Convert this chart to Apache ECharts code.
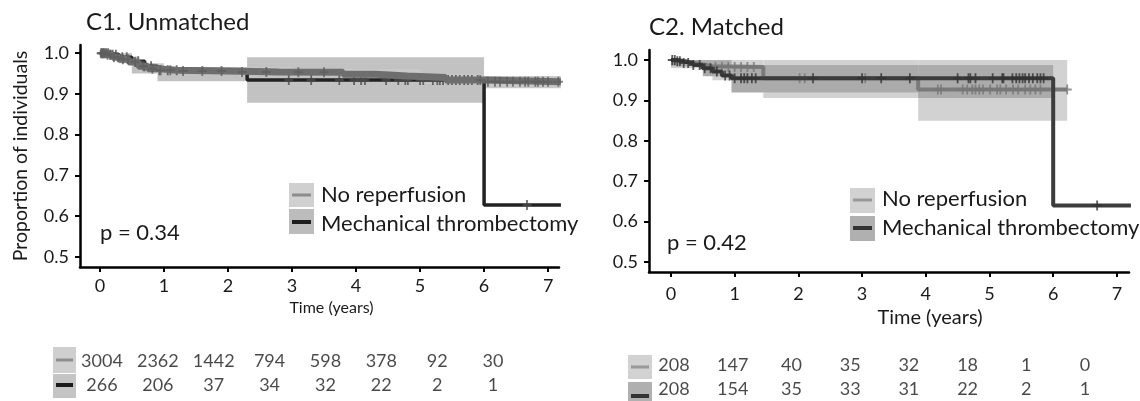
<!DOCTYPE html>
<html>
<head>
<meta charset="utf-8">
<script src="https://cdn.jsdelivr.net/npm/echarts@6/dist/echarts.min.js"></script>
<style>
html,body{margin:0;padding:0;background:#fff;}
#chart{width:1140px;height:401px;}
</style>
</head>
<body>
<div id="chart"></div>
<script>
// ---------- DATA ----------
var xTicks = [0, 1, 2, 3, 4, 5, 6, 7];
var yTicks = [0.5, 0.6, 0.7, 0.8, 0.9, 1.0];

// C1. Unmatched
var c1NrTimes = [0, 0.1, 0.2, 0.3, 0.45, 0.6, 0.75, 0.9, 1.2, 2.0, 2.8, 3.8, 4.3, 4.8, 5.4, 6.0, 7.2];
var c1NrSurv  = [1.0, 0.996, 0.99, 0.985, 0.978, 0.968, 0.962, 0.958, 0.956, 0.954, 0.953, 0.948, 0.944, 0.94, 0.934, 0.93, 0.93];
var c1NrCiTimes = [0, 0.3, 0.6, 1.0, 3.0, 5.0, 6.0, 7.2];
var c1NrCiLo    = [0.99, 0.975, 0.955, 0.95, 0.945, 0.925, 0.914, 0.914];
var c1NrCiHi    = [1.0, 0.992, 0.975, 0.966, 0.961, 0.948, 0.944, 0.944];
var c1NrCensor  = [0.02, 0.05, 0.08, 0.12, 0.16, 0.22, 0.28, 0.36, 0.44, 0.55, 0.68, 0.82, 0.95, 1.1, 1.3, 1.6, 1.9, 2.22, 2.6, 3.1, 3.5, 5.94, 6.06, 6.17, 6.25, 6.36, 6.45, 6.56, 6.64, 6.69, 6.8, 6.84, 6.92, 7.0, 7.16];

var c1MtTimes = [0, 0.15, 0.3, 0.5, 0.7, 0.9, 2.3, 6.0, 7.2];
var c1MtSurv  = [1.0, 0.996, 0.99, 0.98, 0.968, 0.958, 0.934, 0.627, 0.627];
var c1MtCiTimes = [0, 0.5, 0.9, 2.3, 6.0];
var c1MtCiLo    = [0.99, 0.95, 0.931, 0.878, 0.878];
var c1MtCiHi    = [1.0, 0.975, 0.96, 0.99, 0.99];
var c1MtCensor  = [0.03, 0.06, 0.1, 0.13, 0.17, 0.2, 0.25, 0.35, 0.42, 0.6, 0.7, 0.8, 0.93, 1.06, 1.2, 2.95, 3.3, 3.74, 3.97, 4.08, 4.14, 4.47, 4.66, 4.77, 4.81, 5.0, 5.05, 5.2, 5.27, 5.31, 5.36, 5.44, 5.5, 5.56, 5.62, 5.69, 5.75, 5.81, 5.9, 6.67];

// C2. Matched
var c2NrTimes = [0, 0.1, 0.25, 0.4, 0.55, 0.65, 1.45, 3.88, 6.22];
var c2NrSurv  = [1.0, 0.996, 0.992, 0.988, 0.985, 0.983, 0.955, 0.927, 0.927];
var c2NrCiTimes = [0, 0.65, 1.45, 3.88, 6.22];
var c2NrCiLo    = [0.98, 0.95, 0.906, 0.85, 0.85];
var c2NrCiHi    = [1.0, 1.0, 1.0, 1.0, 1.0];
var c2NrCensor  = [0.7, 0.8, 0.9, 1.0, 1.1, 1.2, 1.3, 2.02, 2.1, 3.05, 4.19, 4.24, 4.58, 4.65, 4.73, 4.78, 4.84, 4.9, 5.01, 5.12, 5.17, 5.26, 5.37, 5.45, 5.56, 5.64, 5.72, 5.8, 6.22];

var c2MtTimes = [0, 0.1, 0.2, 0.35, 0.5, 0.65, 0.8, 0.95, 6.0, 7.22];
var c2MtSurv  = [1.0, 0.997, 0.993, 0.988, 0.98, 0.972, 0.962, 0.955, 0.64, 0.64];
var c2MtCiTimes = [0, 0.5, 0.95, 3.88, 6.0];
var c2MtCiLo    = [0.985, 0.96, 0.92, 0.906, 0.906];
var c2MtCiHi    = [1.0, 1.0, 0.988, 0.988, 0.988];
var c2MtCensor  = [0.02, 0.06, 0.1, 0.14, 0.2, 0.27, 0.35, 0.45, 0.53, 0.62, 0.72, 0.85, 0.92, 1.0, 1.1, 1.15, 1.2, 1.27, 1.33, 2.23, 3.0, 3.3, 3.75, 4.5, 4.67, 4.7, 4.78, 5.05, 5.2, 5.22, 5.36, 5.42, 5.47, 5.52, 5.56, 5.62, 5.68, 5.75, 5.8, 5.85, 6.69];

// Numbers at risk
var riskC1Nr = [3004, 2362, 1442, 794, 598, 378, 92, 30];
var riskC1Mt = [266, 206, 37, 34, 32, 22, 2, 1];
var riskC2Nr = [208, 147, 40, 35, 32, 18, 1, 0];
var riskC2Mt = [208, 154, 35, 33, 31, 22, 2, 1];

// ---------- HELPERS ----------
var FONT = 'Lato';
var TXT = '#1a1a1a';
var PLUS = 'path://M4,0 H6 V4 H10 V6 H6 V10 H4 V6 H0 V4 H4 Z';

function pairs(t, s) { return t.map(function (v, i) { return [v, s[i]]; }); }
function stepAt(t, s, x) { var v = s[0]; for (var i = 0; i < t.length; i++) { if (t[i] <= x) v = s[i]; } return v; }
function censorPts(ct, t, s) { return ct.map(function (x) { return [x, stepAt(t, s, x)]; }); }
function bandData(t, lo, hi) {
  var out = [];
  for (var i = 0; i < t.length - 1; i++) out.push([t[i], t[i + 1], lo[i], hi[i]]);
  return out;
}
function bandSeries(idx, t, lo, hi, color) {
  return {
    type: 'custom', xAxisIndex: idx, yAxisIndex: idx, silent: true, z: 1,
    encode: { x: [0, 1], y: [2, 3] },
    data: bandData(t, lo, hi),
    renderItem: function (params, api) {
      var p0 = api.coord([api.value(0), api.value(3)]);
      var p1 = api.coord([api.value(1), api.value(2)]);
      return { type: 'rect', shape: { x: p0[0], y: p0[1], width: p1[0] - p0[0], height: p1[1] - p0[1] }, style: { fill: color } };
    }
  };
}
function kmLine(idx, t, s, color, w, z) {
  return { type: 'line', xAxisIndex: idx, yAxisIndex: idx, step: 'end', showSymbol: false, symbol: 'none', clip: false,
    data: pairs(t, s), lineStyle: { color: color, width: w }, z: z, silent: true };
}
function censorSeries(idx, pts, color, z) {
  return { type: 'scatter', xAxisIndex: idx, yAxisIndex: idx, symbol: PLUS, symbolSize: [9, 10], data: pts,
    itemStyle: { color: color }, z: z, silent: true, clip: false };
}
function riskSeries(idx, vals, yv) {
  return { type: 'scatter', xAxisIndex: idx, yAxisIndex: idx, symbolSize: 1, silent: true,
    data: vals.map(function (v, i) { return [i, yv, v]; }),
    itemStyle: { color: 'transparent' },
    label: { show: true, position: 'inside', formatter: function (p) { return String(p.value[2]); },
      fontFamily: FONT, fontSize: 18, color: TXT } };
}
function mainX(grid, min, max, name, nameGap, nameSize, namePad, labelMargin) {
  return {
    type: 'value', gridIndex: grid, min: min, max: max,
    axisLine: { show: true, onZero: false, lineStyle: { color: '#000', width: 2.5 } },
    axisTick: { show: true, customValues: xTicks, length: 5, lineStyle: { color: '#000', width: 2 } },
    axisLabel: { customValues: xTicks, fontFamily: FONT, fontSize: 18, color: TXT, margin: labelMargin },
    splitLine: { show: false },
    name: name, nameLocation: 'middle', nameGap: nameGap,
    nameTextStyle: { fontFamily: FONT, fontSize: nameSize, color: TXT, padding: namePad }
  };
}
function mainY(grid, min, max, name) {
  var a = {
    type: 'value', gridIndex: grid, min: min, max: max,
    axisLine: { show: true, onZero: false, lineStyle: { color: '#000', width: 2.5 } },
    axisTick: { show: true, customValues: yTicks, length: 5, lineStyle: { color: '#000', width: 2 } },
    axisLabel: { customValues: yTicks, fontFamily: FONT, fontSize: 18, color: TXT, margin: 11,
      formatter: function (v) { return v.toFixed(1); } },
    splitLine: { show: false }
  };
  if (name) {
    a.name = name; a.nameLocation = 'middle'; a.nameGap = 49;
    a.nameTextStyle = { fontFamily: FONT, fontSize: 19.5, color: TXT };
  }
  return a;
}
function hiddenAxis(grid, min, max) {
  return { type: 'value', gridIndex: grid, min: min, max: max, show: false,
    axisLine: { show: false }, axisTick: { show: false }, axisLabel: { show: false }, splitLine: { show: false } };
}
function keyBox(x, y, w, h, fill, lineColor, lineW, ly) {
  return [
    { type: 'rect', shape: { x: x, y: y, width: w, height: h }, style: { fill: fill }, silent: true },
    { type: 'line', shape: { x1: x + 3, y1: ly, x2: x + w - 3, y2: ly }, style: { stroke: lineColor, lineWidth: lineW }, silent: true }
  ];
}
function txt(x, y, s, size, align) {
  return { type: 'text', x: x, y: y, silent: true,
    style: { text: s, fontFamily: FONT, fontSize: size, fill: TXT, align: align || 'left', verticalAlign: 'middle' } };
}

var graphics = [].concat(
  keyBox(289, 183, 25, 24, '#d0d0d0', '#8c8c8c', 3, 195),
  keyBox(289, 209, 25, 25, '#bcbcbc', '#1e1e1e', 4, 222),
  keyBox(850, 188, 25, 25, '#d2d2d2', '#9a9a9a', 3, 200),
  keyBox(850, 216, 25, 25, '#b0b0b0', '#333333', 4, 228),
  keyBox(53, 347, 23, 26, '#cfcfcf', '#8f8f8f', 3, 360),
  keyBox(53, 374, 23, 24, '#c4c4c4', '#1a1a1a', 4, 385),
  keyBox(628, 355, 24, 24, '#d2d2d2', '#999999', 3, 367),
  keyBox(628, 382, 24, 19, '#b0b0b0', '#333333', 4, 396),
  [
    txt(321, 195, 'No reperfusion', 22),
    txt(321, 224, 'Mechanical thrombectomy', 22),
    txt(882, 199, 'No reperfusion', 22),
    txt(882, 228, 'Mechanical thrombectomy', 22),
    txt(100, 233, 'p = 0.34', 22),
    txt(667, 243, 'p = 0.42', 22)
  ]
);

var option = {
  backgroundColor: '#fff',
  animation: false,
  title: [
    { text: 'C1. Unmatched', left: 86, top: 10, padding: 0, textStyle: { fontFamily: FONT, fontSize: 24, fontWeight: 'normal', color: TXT } },
    { text: 'C2. Matched', left: 649, top: 15, padding: 0, textStyle: { fontFamily: FONT, fontSize: 24, fontWeight: 'normal', color: TXT } }
  ],
  grid: [
    { left: 80, top: 45, width: 479, height: 222 },
    { left: 649, top: 50, width: 480, height: 222 },
    { left: 102, top: 349, width: 391, height: 48 },
    { left: 674, top: 353, width: 411, height: 52 }
  ],
  xAxis: [
    mainX(0, -0.31, 7.17, 'Time (years)', 29, 16, [0, 0, 0, 24], 10),
    mainX(1, -0.345, 7.19, 'Time (years)', 21, 20, [0, 0, 0, 82], 13),
    hiddenAxis(2, 0, 7),
    hiddenAxis(3, 0, 7)
  ],
  yAxis: [
    mainY(0, 0.475, 1.02, 'Proportion of individuals'),
    mainY(1, 0.475, 1.025, null),
    hiddenAxis(2, 0, 1),
    hiddenAxis(3, 0, 1)
  ],
  series: [
    bandSeries(0, c1MtCiTimes, c1MtCiLo, c1MtCiHi, '#c2c2c2'),
    bandSeries(0, c1NrCiTimes, c1NrCiLo, c1NrCiHi, '#c8c8c8'),
    kmLine(0, c1MtTimes, c1MtSurv, '#222222', 3.5, 3),
    censorSeries(0, censorPts(c1MtCensor, c1MtTimes, c1MtSurv), '#4a4a4a', 4),
    kmLine(0, c1NrTimes, c1NrSurv, '#6e6e6e', 7, 5),
    censorSeries(0, censorPts(c1NrCensor, c1NrTimes, c1NrSurv), '#5e5e5e', 6),

    bandSeries(1, c2NrCiTimes, c2NrCiLo, c2NrCiHi, '#d2d2d2'),
    bandSeries(1, c2MtCiTimes, c2MtCiLo, c2MtCiHi, '#ababab'),
    kmLine(1, c2NrTimes, c2NrSurv, '#7a7a7a', 4, 3),
    censorSeries(1, censorPts(c2NrCensor, c2NrTimes, c2NrSurv), '#777777', 4),
    kmLine(1, c2MtTimes, c2MtSurv, '#3c3c3c', 4, 5),
    censorSeries(1, censorPts(c2MtCensor, c2MtTimes, c2MtSurv), '#333333', 6),

    riskSeries(2, riskC1Nr, 0.75),
    riskSeries(2, riskC1Mt, 0.25),
    riskSeries(3, riskC2Nr, 0.75),
    riskSeries(3, riskC2Mt, 0.25)
  ],
  graphic: { elements: graphics }
};

var chart = echarts.init(document.getElementById('chart'), null, { renderer: 'canvas' });
chart.setOption(option);
</script>
</body>
</html>
